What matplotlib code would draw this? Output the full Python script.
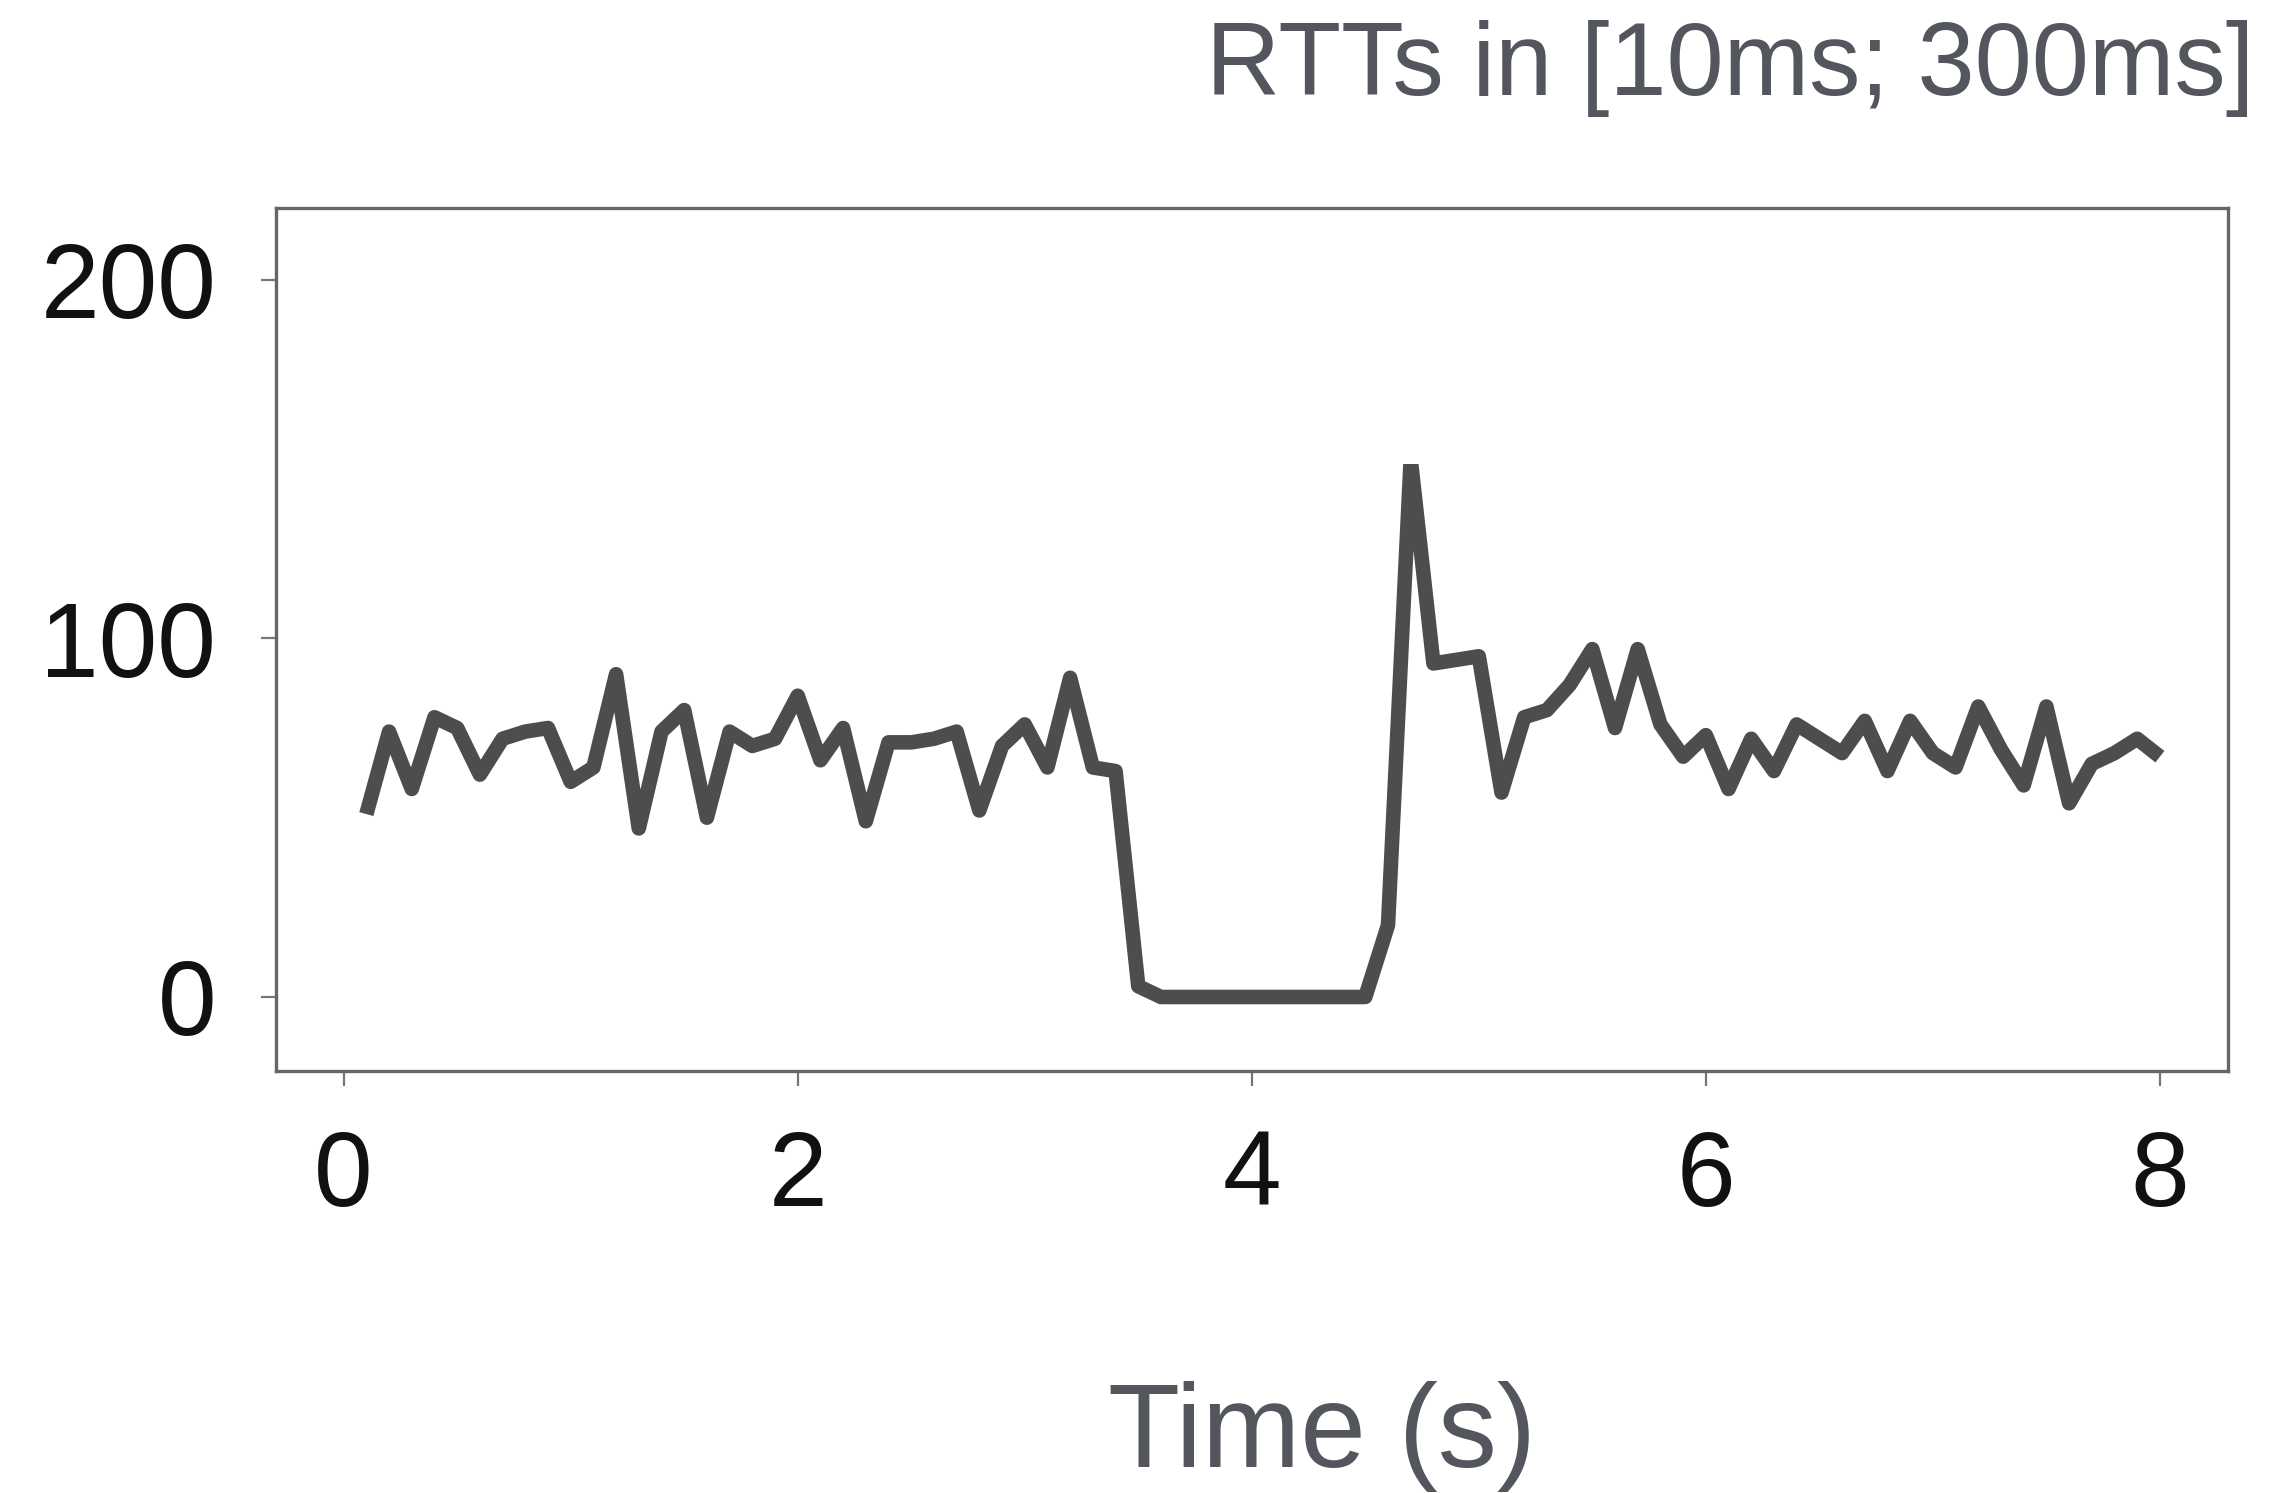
import matplotlib
matplotlib.use("Agg")
import matplotlib.pyplot as plt
from matplotlib.patches import Rectangle

plt.rcParams["font.family"] = ["Liberation Sans", "DejaVu Sans"]

# Sample times (s) and measured round-trip times (ms)
time_s = [round(0.1 * i, 1) for i in range(1, 81)]
rtt_ms = [
    51, 74, 58, 78, 75, 62, 72, 74, 75, 60,
    64, 90, 47, 74, 80, 50, 74, 70, 72, 84,
    66, 75, 49, 71, 71, 72, 74, 52, 70, 76,
    64, 89, 64, 63, 3, 0, 0, 0, 0, 0,
    0, 0, 0, 0, 0, 20, 150, 93, 94, 95,
    57, 78, 80, 87, 97, 75, 97, 76, 67, 73,
    58, 72, 63, 76, 72, 68, 77, 63, 77, 68,
    64, 81, 69, 59, 81, 54, 65, 68, 72, 67,
]

x_ticks = [0, 2, 4, 6, 8]
y_ticks = [0, 100, 200]
title_text = "RTTs in [10ms; 300ms]"
xlabel_text = "Time (s)"

W, H = 2273, 1493
fig = plt.figure(figsize=(W / 100, H / 100), dpi=100)
fig.patch.set_facecolor("white")

left, right, top, bottom = 276, 2228, 208, 1070.5
ax = fig.add_axes([left / W, 1 - bottom / H, (right - left) / W, (bottom - top) / H])

(line,) = ax.plot(time_s, rtt_ms, color="#4d4d4d", lw=10.5,
                  solid_joinstyle="round", solid_capstyle="butt")
# the spike is cut flat just below 150 ms
clip = Rectangle((-1, -50), 12, 50 + 148.7, transform=ax.transData)
line.set_clip_path(clip)

ax.set_xlim(-0.298, 8.30)
ax.set_ylim(-20.5, 220)
ax.set_xticks(x_ticks)
ax.set_yticks(y_ticks)
ax.set_xticklabels([str(v) for v in x_ticks])
ax.set_yticklabels([str(v) for v in y_ticks])

for s in ax.spines.values():
    s.set_color("#666666")
    s.set_linewidth(2.4)

ax.tick_params(axis="both", direction="out", length=11, width=1.6,
               color="#777777", labelsize=76, labelcolor="#111111")
ax.tick_params(axis="x", pad=31)
ax.tick_params(axis="y", pad=32)

fig.text(2254 / W, 1 - 95 / H, title_text, ha="right", va="baseline",
         fontsize=74, color="#53575d")
fig.text(1322 / W, 1 - 1467 / H, xlabel_text, ha="center", va="baseline",
         fontsize=85, color="#53575d")

fig.savefig("out.png", dpi=100, facecolor="white")
